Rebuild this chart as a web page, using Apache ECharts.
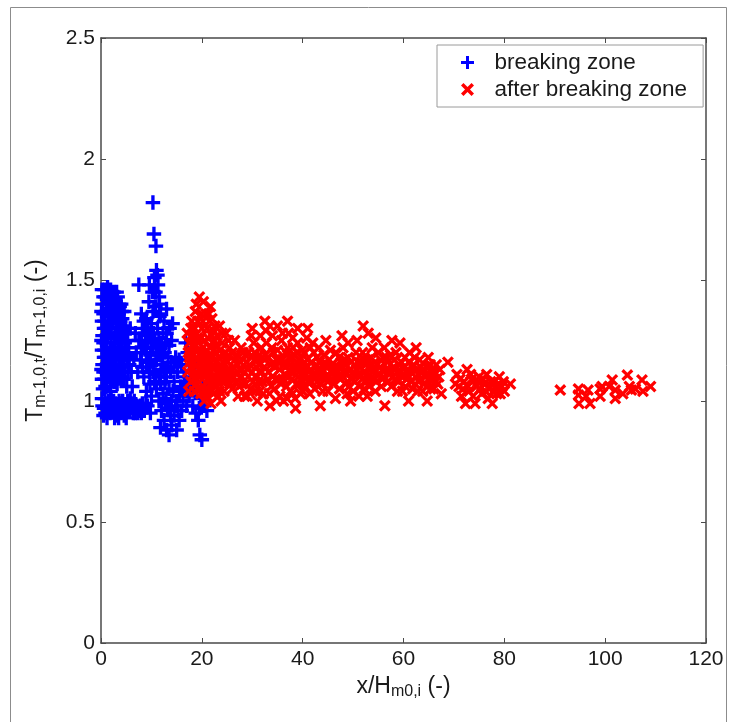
<!DOCTYPE html>
<html>
<head>
<meta charset="utf-8">
<title>Wave period ratio along the profile</title>
<script src="https://cdn.jsdelivr.net/npm/echarts@6/dist/echarts.min.js"></script>
<style>
  html, body { margin: 0; padding: 0; background: #ffffff; }
  #chart { width: 729px; height: 722px; }
</style>
</head>
<body>
<div id="chart"></div>
<script>
// Series names shown in the legend
const seriesNames = ['breaking zone', 'after breaking zone'];

// Axis ranges and tick spacing
const xRange = [0, 120, 20];
const yRange = [0, 2.5, 0.5];

// [x/Hm0,i , Tm-1,0,t / Tm-1,0,i] inside the breaking zone
const breakingZone = [
  [0.2,1.46],[0.3,1.40],[0.2,1.33],[0.3,1.27],[0.2,1.21],[0.3,1.15],[0.2,1.09],[0.4,1.05],
  [0.8,1.43],[1.0,1.37],[0.9,1.30],[1.1,1.24],[0.8,1.18],[1.0,1.12],[0.9,1.06],
  [1.6,1.41],[1.8,1.35],[1.7,1.28],[1.9,1.22],[1.6,1.16],[1.8,1.10],
  [2.5,1.45],[2.7,1.38],[2.4,1.32],[2.6,1.26],[2.8,1.19],[2.5,1.13],[2.7,1.08],
  [3.3,1.43],[3.5,1.36],[3.2,1.30],[3.4,1.24],[3.6,1.17],[3.3,1.11],
  [4.2,1.34],[4.4,1.28],[4.1,1.21],[4.3,1.15],[4.5,1.09],
  [5.0,1.25],[5.2,1.18],[5.4,1.12],[5.1,1.06],
  [0.5,1.36],[1.3,1.47],[2.1,1.32],[3.0,1.20],[3.8,1.28],[4.0,1.40],[1.4,1.10],[2.2,1.14],
  [6.0,1.12],[6.2,1.06],[6.5,1.17],[5.8,1.30],
  [0.5,1.43],[0.6,1.30],[0.5,1.24],[0.6,1.18],[0.5,1.12],[1.3,1.40],[1.4,1.33],[1.3,1.27],
  [1.4,1.20],[1.3,1.14],[2.0,1.44],[2.1,1.38],[2.0,1.26],[2.1,1.19],[2.0,1.08],[2.9,1.41],
  [3.0,1.34],[2.9,1.28],[3.0,1.14],[3.7,1.39],[3.8,1.33],[3.7,1.21],[3.8,1.14],[4.6,1.31],
  [4.7,1.24],[4.6,1.18],[4.8,1.12],[5.5,1.22],[5.6,1.15],
  [0.1,1.37],[0.1,1.25],[0.1,1.13],[0.7,1.46],[0.7,1.33],[0.7,1.21],[0.7,1.09],[1.2,1.42],
  [1.2,1.30],[1.2,1.18],[1.2,1.06],[1.9,1.46],[1.9,1.30],[1.9,1.16],[1.9,1.04],[2.3,1.40],
  [2.3,1.22],[2.4,1.09],[2.8,1.35],[2.8,1.24],[2.8,1.12],[3.1,1.45],[3.1,1.26],[3.2,1.07],
  [3.6,1.40],[3.6,1.30],[3.6,1.10],[4.1,1.37],[4.1,1.27],[4.2,1.10],[4.6,1.37],[4.9,1.30],
  [5.0,1.19],[5.3,1.28],
  [0.3,0.98],[0.5,0.94],[1.0,0.97],[1.5,1.00],[1.8,0.95],[2.3,0.98],[2.7,0.93],[3.2,0.97],
  [3.6,1.00],[4.0,0.95],[4.5,0.98],[5.0,0.93],[5.5,0.97],[6.0,0.99],[6.4,0.95],[7.0,0.98],
  [7.5,0.96],[8.2,0.99],[0.8,1.01],[2.0,1.01],[4.3,1.00],[5.8,1.01],[3.5,0.93],[1.2,0.93],
  [0.2,1.01],[0.9,0.95],[1.5,0.96],[2.5,1.00],[3.0,0.94],[4.0,0.99],[4.8,0.96],[5.3,1.00],
  [6.8,0.95],[7.8,0.98],[8.6,0.96],[9.2,0.98],[9.8,0.95],
  [0.6,0.97],[1.3,0.99],[2.1,0.96],[2.9,0.99],[3.8,0.97],[4.6,0.94],[5.2,0.98],[6.2,0.97],
  [6.6,1.00],[7.3,0.95],[8.0,0.95],[8.9,0.99],
  [10.3,1.82],[10.5,1.69],[10.9,1.64],[11.0,1.54],[10.6,1.51],[11.3,1.48],[7.5,1.48],[10.2,1.45],[11.5,1.43],
  [9.5,1.41],[10.8,1.39],[11.8,1.36],[9.0,1.34],[10.0,1.32],[11.2,1.30],[12.3,1.28],[8.2,1.30],
  [9.5,1.27],[10.6,1.25],[11.8,1.22],[12.8,1.24],[7.5,1.25],[8.6,1.22],[9.8,1.19],[11.0,1.17],
  [12.2,1.15],[13.3,1.18],[7.8,1.17],[9.0,1.14],[10.3,1.12],[11.5,1.10],[12.7,1.08],[13.8,1.12],
  [8.5,1.10],[9.7,1.07],[11.0,1.05],[12.3,1.03],[13.5,1.05],[14.5,1.08],[7.0,1.20],[6.8,1.28],
  [8.0,1.36],[12.5,1.33],[13.0,1.38],[14.0,1.25],[14.8,1.18],[15.2,1.12],[15.8,1.06],[16.5,1.10],
  [17.0,1.04],[16.0,1.15],[14.2,1.32],[13.6,1.30],
  [8.8,1.28],[9.2,1.24],[10.2,1.22],[10.9,1.20],[11.5,1.26],[9.3,1.16],[10.5,1.15],[11.9,1.13],
  [8.2,1.14],[9.0,1.04],[10.0,1.02],[10.6,1.08],[12.0,1.19],[12.9,1.13],[13.9,1.16],[14.3,1.04],
  [15.0,1.00],[16.2,1.05],[11.6,1.35],[10.3,1.37],[12.7,0.99],[13.8,0.94],[15.3,0.96],[12.9,1.01],
  [8.0,1.25],[8.5,1.33],[9.3,1.30],[9.9,1.28],[10.4,1.28],[11.0,1.23],[11.4,1.19],[12.0,1.24],
  [12.6,1.20],[13.0,1.28],[13.5,1.23],[13.0,1.10],[12.5,1.12],[11.8,1.07],[10.8,1.11],[9.6,1.12],
  [9.0,1.20],[8.0,1.20],[7.3,1.12],[14.5,1.14],[15.5,1.17],[14.0,1.00],[16.8,1.08],[17.5,1.15],
  [9.6,1.48],[11.6,1.40],[11.2,1.52],[10.8,1.45],
  [11.5,1.00],[12.0,0.96],[12.5,0.92],[13.0,0.88],[13.5,0.86],[14.0,0.90],[14.5,0.94],[15.0,0.88],
  [15.5,0.92],[16.0,0.96],[13.2,0.97],[11.8,0.89],[14.8,0.98],[16.3,1.00],[15.6,1.02],
  [17.5,1.02],[18.2,0.98],[18.8,0.95],[19.3,0.92],[19.6,0.86],[20.0,0.84],[18.5,1.06],[19.8,1.01],
  [20.5,0.98],[21.0,1.04],[21.5,1.08],[19.0,1.10],[17.8,1.12],[18.6,1.16],[17.2,1.20],[16.8,1.24],
  [17.0,0.98],[18.0,1.08],[19.0,1.04],[20.2,1.06],[21.0,0.96],[19.5,0.97]
];

// [x/Hm0,i , Tm-1,0,t / Tm-1,0,i] shoreward of the breaking zone
const afterBreakingZone = [
  [19.5,1.43],[20.3,1.41],[18.7,1.37],[20.8,1.36],[19.2,1.33],[21.5,1.33],[17.8,1.30],[20.0,1.30],
  [22.3,1.29],[18.5,1.27],[19.8,1.26],[21.2,1.26],[23.0,1.27],[17.5,1.24],[18.8,1.23],[20.2,1.22],
  [21.6,1.22],[22.8,1.23],[24.0,1.24],[17.3,1.20],[18.3,1.19],[19.5,1.19],[20.8,1.18],[22.0,1.19],
  [23.3,1.18],[24.6,1.20],[17.6,1.16],[18.9,1.15],[20.1,1.14],[21.4,1.15],[22.6,1.14],[23.8,1.15],
  [25.0,1.16],[17.2,1.12],[18.4,1.11],[19.6,1.10],[20.9,1.11],[22.1,1.10],[23.4,1.11],[24.5,1.12],
  [17.8,1.08],[19.0,1.07],[20.3,1.06],[21.6,1.07],[22.9,1.06],[24.0,1.08],[18.5,1.04],[19.8,1.03],
  [21.0,1.02],[22.3,1.03],[23.5,1.04],[20.5,1.00],[21.8,0.99],[19.2,1.21],[21.0,1.30],[22.0,1.34],
  [23.5,1.31],[24.8,1.28],[25.5,1.22],[25.8,1.10],[26.0,1.05],[18.0,1.33],[22.5,1.25],[23.8,1.00],
  [18.0,1.20],[18.2,1.13],[18.6,1.09],[19.0,1.17],[19.4,1.13],[19.3,1.05],[20.0,1.18],[20.5,1.10],
  [20.6,1.25],[21.0,1.21],[21.2,1.13],[21.4,1.04],[21.8,1.18],[22.0,1.27],[22.2,1.15],[22.5,1.08],
  [22.7,1.20],[23.0,1.12],[23.2,1.02],[23.6,1.21],[23.9,1.09],[24.2,1.16],[24.4,1.04],[24.8,1.10],
  [25.2,1.19],[25.4,1.13],[25.6,1.07],[17.4,1.04],[17.1,1.28],[19.9,1.36],[21.7,1.39],[18.9,1.40],
  [17.5,1.18],[17.9,1.14],[18.1,1.23],[18.6,1.30],[19.1,1.26],[19.3,1.11],[19.7,1.16],[20.4,1.19],
  [20.7,1.04],[20.9,1.15],[21.3,1.09],[21.9,1.12],[22.4,1.21],[22.9,1.16],[23.1,1.08],[23.7,1.13],
  [24.3,1.19],[24.6,1.08],[25.1,1.13],[25.3,1.25],[20.2,1.33],[21.4,1.36],[22.6,1.31],[24.0,1.28],
  [17.9,1.27],
  [26.5,1.25],[27.0,1.19],[27.5,1.13],[28.0,1.07],[28.5,1.02],[26.8,1.08],[27.8,1.22],[28.8,1.16],
  [29.2,1.10],[29.0,1.02],[29.8,1.27],[30.0,1.30],[30.5,1.20],[30.8,1.14],[31.2,1.08],[31.5,1.04],
  [32.0,1.18],[32.5,1.33],[32.8,1.24],[33.2,1.12],[33.5,0.98],[33.8,1.06],[34.2,1.20],[34.5,1.14],
  [35.0,1.31],[35.2,1.09],[35.5,1.02],[35.8,1.25],[36.0,1.17],[31.0,1.00],[32.2,1.03],[34.0,1.27],
  [29.5,1.15],[26.2,1.14],[27.2,1.02],[30.2,1.08],
  [26.0,1.20],[26.6,1.17],[26.9,1.11],[27.4,1.06],[27.7,1.16],[28.2,1.20],[28.4,1.12],[28.7,1.07],
  [29.3,1.20],[29.6,1.05],[30.0,1.12],[30.3,1.24],[30.7,1.04],[31.0,1.17],[31.4,1.12],[31.8,1.22],
  [32.0,1.08],[32.4,1.14],[32.7,1.29],[33.0,1.18],[33.4,1.03],[33.7,1.15],[34.0,1.10],[34.4,1.05],
  [34.8,1.17],[35.0,1.21],[35.4,1.13],[35.7,1.07],[36.0,1.28],[31.6,1.27],[33.5,1.31],[34.8,1.00],
  [26.3,1.10],[27.1,1.15],[27.9,1.10],[28.6,1.19],[29.1,1.13],[29.9,1.18],[30.6,1.10],[31.3,1.15],
  [31.9,1.12],[32.6,1.19],[33.1,1.09],[33.9,1.22],[34.6,1.09],[35.3,1.17],[28.0,1.13],[30.9,1.18],
  [34.2,1.16],
  [36.5,1.11],[36.8,1.06],[37.0,1.22],[37.2,1.28],[37.5,1.15],[37.8,1.09],[38.0,1.03],[38.2,1.19],
  [38.5,1.01],[38.8,1.13],[39.0,1.24],[39.3,1.07],[39.5,1.17],[39.8,1.11],[40.0,1.04],[40.3,1.20],
  [40.6,1.14],[41.0,1.08],[41.5,1.22],[41.8,1.16],[42.0,1.11],[42.4,1.05],[42.8,1.18],[43.0,1.12],
  [43.5,0.98],[43.7,1.07],[44.0,1.15],[44.5,1.10],[45.0,1.04],[45.3,1.17],[45.7,1.12],[46.0,1.07],
  [36.2,1.00],[38.6,0.97],[40.8,1.26],[43.2,1.22],[37.0,1.33],[39.0,1.30],
  [36.4,1.16],[36.7,1.20],[37.3,1.10],[37.6,1.04],[37.9,1.18],[38.3,1.12],[38.7,1.07],[38.9,1.20],
  [39.2,1.15],[39.6,1.03],[39.9,1.21],[40.2,1.10],[40.5,1.06],[40.9,1.17],[41.2,1.12],[41.4,1.03],
  [41.7,1.08],[42.2,1.20],[42.5,1.14],[42.9,1.08],[43.3,1.16],[43.6,1.11],[44.0,1.04],[44.2,1.19],
  [44.7,1.14],[45.0,1.08],[45.5,1.21],[46.0,1.13],[38.0,1.26],[41.0,1.30],[44.6,1.25],[36.9,1.01],
  [36.1,1.09],[36.6,1.14],[37.4,1.18],[37.7,1.12],[38.4,1.15],[39.1,1.10],[39.7,1.13],[40.4,1.16],
  [40.7,1.11],[41.6,1.13],[42.3,1.09],[42.7,1.15],[43.4,1.13],[43.9,1.10],[44.4,1.16],[45.2,1.10],
  [45.8,1.15],[38.1,1.22],[40.1,1.08],[42.0,1.24],
  [46.3,1.14],[46.6,1.20],[47.0,1.10],[47.3,1.05],[47.6,1.16],[48.0,1.22],[48.2,1.12],[48.5,1.07],
  [48.8,1.03],[49.0,1.18],[49.4,1.13],[49.8,1.09],[50.0,1.04],[50.3,1.15],[50.6,1.20],[51.0,1.11],
  [51.3,1.06],[51.6,1.16],[52.0,1.31],[52.3,1.12],[52.6,1.08],[53.0,1.17],[53.4,1.13],[53.8,1.22],
  [54.0,1.09],[54.4,1.04],[54.8,1.15],[55.2,1.11],[55.6,1.06],[56.0,1.18],[56.3,0.98],[47.8,1.27],
  [50.8,1.25],[46.5,1.01],[49.5,1.00],[52.8,1.02],
  [46.8,1.12],[47.2,1.18],[47.5,1.09],[47.9,1.14],[48.4,1.17],[48.7,1.11],[49.2,1.06],[49.6,1.16],
  [50.0,1.12],[50.4,1.08],[50.9,1.16],[51.2,1.02],[51.5,1.11],[51.9,1.20],[52.2,1.05],[52.5,1.15],
  [52.9,1.10],[53.2,1.06],[53.6,1.18],[54.2,1.13],[54.6,1.08],[55.0,1.20],[55.4,1.14],[55.8,1.09],
  [49.0,1.24],[54.5,1.26],[53.0,1.28],
  [46.4,1.10],[47.1,1.14],[47.7,1.11],[48.3,1.15],[48.9,1.08],[49.5,1.13],[50.2,1.11],[50.7,1.13],
  [51.4,1.14],[51.8,1.09],[52.4,1.17],[53.1,1.14],[53.7,1.10],[54.3,1.16],[54.9,1.11],[55.5,1.17],
  [56.5,1.13],[57.0,1.08],[57.4,1.19],[57.7,1.25],[58.0,1.14],[58.4,1.09],[58.8,1.04],[59.3,1.24],
  [59.6,1.16],[60.0,1.11],[60.4,1.06],[60.8,1.13],[61.2,1.20],[61.5,1.08],[62.0,1.15],[62.4,1.10],
  [62.8,1.04],[63.2,1.17],[63.6,1.12],[64.0,1.07],[64.5,1.14],[64.9,1.18],[65.2,1.09],[64.7,1.00],
  [65.6,1.12],[66.0,1.05],[66.5,1.15],[67.0,1.10],[68.8,1.16],[67.5,1.03],[61.0,1.00],[58.5,1.20],
  [60.3,1.18],
  [56.8,1.16],[57.2,1.11],[57.6,1.06],[58.2,1.17],[58.7,1.12],[59.0,1.08],[59.4,1.12],[59.8,1.04],
  [60.2,1.14],[60.6,1.09],[61.0,1.16],[61.4,1.12],[61.8,1.05],[62.2,1.18],[62.6,1.13],[63.0,1.08],
  [63.4,1.14],[63.8,1.04],[64.2,1.10],[64.6,1.06],[65.0,1.14],[65.4,1.05],[65.8,1.09],[66.2,1.12],
  [66.8,1.07],[56.2,1.22],[62.5,1.22],
  [56.1,1.10],[56.6,1.18],[57.1,1.13],[57.8,1.10],[58.3,1.13],[59.1,1.15],[59.7,1.10],[60.5,1.12],
  [61.1,1.10],[61.7,1.14],[62.3,1.07],[62.9,1.11],[63.5,1.09],[64.1,1.13],[64.8,1.11],[65.3,1.15],
  [66.0,1.09],[66.4,1.08],[67.2,1.13],
  [70.6,1.11],[71.0,1.06],[71.5,1.02],[72.0,1.08],[72.6,1.13],[73.0,1.04],[73.5,1.09],[74.2,0.99],
  [74.5,1.06],[75.0,1.10],[75.5,1.03],[76.0,1.07],[76.5,1.11],[77.0,1.05],[77.6,0.99],[78.0,1.08],
  [78.5,1.03],[79.0,1.10],[79.5,1.06],[80.0,1.04],[81.2,1.07],[72.3,0.99],[76.8,1.01],
  [71.2,1.09],[71.8,1.05],[72.8,1.06],[73.3,1.11],[73.8,1.02],[74.8,1.08],[75.2,1.05],[75.8,1.09],
  [76.3,1.04],[77.3,1.08],[77.8,1.04],[78.3,1.06],[78.8,1.07],[79.2,1.03],[79.8,1.08],[70.3,1.07],
  [91.1,1.045],[94.7,1.05],[94.7,1.025],[94.8,0.99],[96.6,1.045],[97.0,0.99],[96.2,1.02],[99.0,1.05],
  [99.4,1.06],[99.0,1.02],[101.4,1.087],[102.0,1.045],[102.0,1.01],[100.8,1.06],[104.4,1.107],[104.8,1.06],
  [106.0,1.05],[105.2,1.045],[107.3,1.087],[107.5,1.04],[109.0,1.06],[103.5,1.03]
];

// Marker outlines: a plus and a diagonal cross, drawn as filled strokes
const plusPath = 'path://M3.85,0H6.15V3.85H10V6.15H6.15V10H3.85V6.15H0V3.85H3.85Z';
const crossPath = 'path://M0,1.9L1.9,0L5,3.1L8.1,0L10,1.9L6.9,5L10,8.1L8.1,10L5,6.9L1.9,10L0,8.1L3.1,5Z';

const FONT = '"Liberation Sans", Arial, sans-serif';
const AXIS_COLOR = '#4a4a4a';
const TEXT_COLOR = '#1a1a1a';

const chart = echarts.init(document.getElementById('chart'), null, { renderer: 'canvas' });

// Unlabelled axes on the top and right close the plot box
const boxAxis = (pos, range) => ({
  type: 'value', position: pos, min: range[0], max: range[1], interval: range[2],
  axisLine: { show: true, onZero: false, lineStyle: { color: AXIS_COLOR, width: 1.5 } },
  axisTick: { show: true, inside: true, length: 5, lineStyle: { color: AXIS_COLOR, width: 1 } },
  axisLabel: { show: false },
  splitLine: { show: false }
});

const titleRich = {
  m: { fontFamily: FONT, fontSize: 23, lineHeight: 26, color: TEXT_COLOR },
  s: { fontFamily: FONT, fontSize: 16, lineHeight: 7, verticalAlign: 'bottom', color: TEXT_COLOR }
};

chart.setOption({
  backgroundColor: '#ffffff',
  animation: false,
  textStyle: { fontFamily: FONT },
  grid: { left: 101, right: 23, top: 38, bottom: 79 },
  graphic: [{
    type: 'rect',
    shape: { x: 10.5, y: 7.5, width: 716, height: 730 },
    style: { fill: 'none', stroke: '#8c8c8c', lineWidth: 1 },
    silent: true, z: -10
  }],
  legend: {
    data: seriesNames,
    orient: 'vertical',
    left: 437,
    top: 45,
    padding: [6, 16, 6, 24],
    itemWidth: 44,
    itemHeight: 13,
    itemGap: 4,
    backgroundColor: '#ffffff',
    borderColor: '#9a9a9a',
    borderWidth: 1,
    textStyle: { fontFamily: FONT, fontSize: 22.5, color: TEXT_COLOR }
  },
  xAxis: [{
    type: 'value', position: 'bottom',
    min: xRange[0], max: xRange[1], interval: xRange[2],
    name: '{m|x/H}{s|m0,i}{m| (-)}',
    nameLocation: 'middle',
    nameGap: 31,
    nameTextStyle: { rich: titleRich },
    axisLine: { show: true, onZero: false, lineStyle: { color: AXIS_COLOR, width: 1.5 } },
    axisTick: { show: true, inside: true, length: 5, lineStyle: { color: AXIS_COLOR, width: 1 } },
    axisLabel: { fontFamily: FONT, fontSize: 21, color: TEXT_COLOR, margin: 6 },
    splitLine: { show: false }
  }, boxAxis('top', xRange)],
  yAxis: [{
    type: 'value', position: 'left',
    min: yRange[0], max: yRange[1], interval: yRange[2],
    name: '{m|T}{s|m-1,0,t}{m|/T}{s|m-1,0,i}{m| (-)}',
    nameLocation: 'middle',
    nameGap: 52,
    nameTextStyle: { rich: titleRich },
    axisLine: { show: true, onZero: false, lineStyle: { color: AXIS_COLOR, width: 1.5 } },
    axisTick: { show: true, inside: true, length: 5, lineStyle: { color: AXIS_COLOR, width: 1 } },
    axisLabel: { fontFamily: FONT, fontSize: 21, color: TEXT_COLOR, margin: 6 },
    splitLine: { show: false }
  }, boxAxis('right', yRange)],
  series: [{
    name: seriesNames[0],
    type: 'scatter',
    xAxisIndex: 0, yAxisIndex: 0,
    data: breakingZone,
    symbol: plusPath,
    symbolSize: 14.5,
    itemStyle: { color: '#0000ff', opacity: 1 },
    z: 2
  }, {
    name: seriesNames[1],
    type: 'scatter',
    xAxisIndex: 0, yAxisIndex: 0,
    data: afterBreakingZone,
    symbol: crossPath,
    symbolSize: 12,
    itemStyle: { color: '#ff0000', opacity: 1 },
    z: 3
  }]
});
</script>
</body>
</html>
